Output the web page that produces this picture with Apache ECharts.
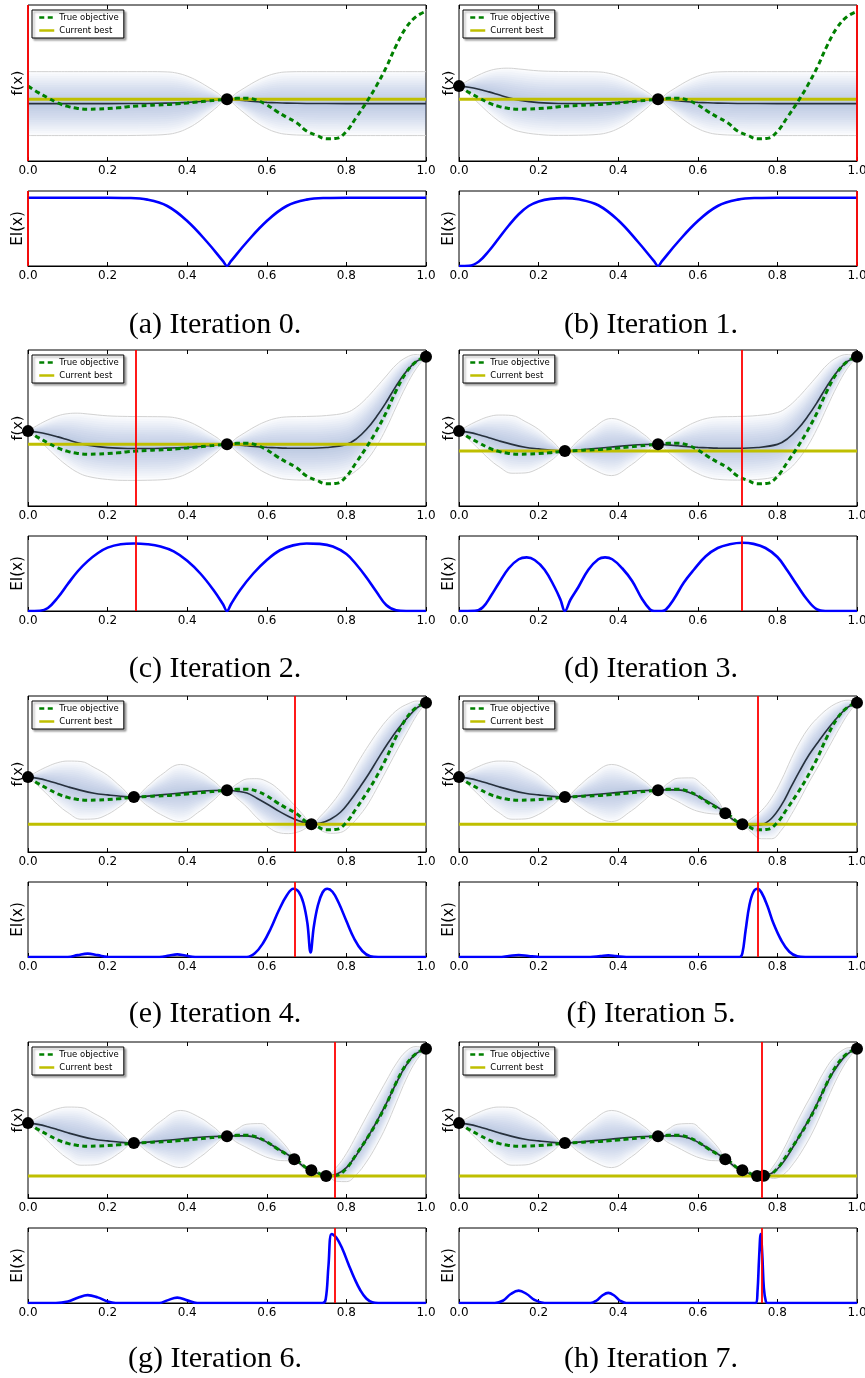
<!DOCTYPE html>
<html>
<head>
<meta charset="utf-8">
<script src="https://cdn.jsdelivr.net/npm/echarts@6/dist/echarts.min.js"></script>
<style>
html, body { margin: 0; padding: 0; background: #fff; }
#chart { width: 865px; height: 1378px; }
</style>
</head>
<body>
<div id="chart"></div>
<script>
// true objective (y is 0 = bottom of panel, 1 = top)
var TRUE_X = [0, 0.025, 0.05, 0.075, 0.1, 0.125, 0.15, 0.175, 0.2, 0.225, 0.25, 0.275, 0.3, 0.325,
  0.35, 0.375, 0.4, 0.425, 0.45, 0.475, 0.5, 0.525, 0.55, 0.575, 0.6, 0.625, 0.65, 0.675, 0.7,
  0.725, 0.75, 0.775, 0.8, 0.825, 0.85, 0.875, 0.9, 0.925, 0.95, 0.975, 1];
var TRUE_Y = [0.48, 0.44, 0.405, 0.372, 0.35, 0.337, 0.332, 0.333, 0.336, 0.341, 0.348, 0.353, 0.356, 0.359,
  0.362, 0.367, 0.372, 0.378, 0.384, 0.39, 0.396, 0.402, 0.403, 0.39, 0.36, 0.318, 0.28, 0.245, 0.192,
  0.165, 0.142, 0.145, 0.19, 0.28, 0.375, 0.48, 0.6, 0.74, 0.855, 0.925, 0.96];

// points queried in order; panel i shows the first i+1, red line at the next one
var QUERY_X = [0.5, 0, 1, 0.266, 0.712, 0.669, 0.749, 0.766, 0.758];
var QUERY_Y = [0.396, 0.48, 0.957, 0.353, 0.178, 0.249, 0.141, 0.143];
var BEST = [0.396, 0.396, 0.396, 0.353, 0.178, 0.178, 0.141, 0.141];
var CAPTIONS = ['(a) Iteration 0.', '(b) Iteration 1.', '(c) Iteration 2.', '(d) Iteration 3.',
  '(e) Iteration 4.', '(f) Iteration 5.', '(g) Iteration 6.', '(h) Iteration 7.'];

// GP posterior pieces: [x, mean, half width of grey band]
var GP_LEFT_A = [[0, 0.368, 0.205], [0.1, 0.368, 0.205], [0.2, 0.368, 0.205], [0.3, 0.369, 0.204],
  [0.35, 0.371, 0.2], [0.375, 0.373, 0.19], [0.4, 0.376, 0.168], [0.425, 0.38, 0.135],
  [0.45, 0.386, 0.092], [0.475, 0.392, 0.046]];
var GP_LEFT_B = [[0, 0.48, 0], [0.025, 0.473, 0.046], [0.05, 0.46, 0.092], [0.075, 0.443, 0.135],
  [0.1, 0.424, 0.168], [0.125, 0.405, 0.19], [0.15, 0.39, 0.2], [0.2, 0.374, 0.204],
  [0.25, 0.369, 0.205], [0.3, 0.369, 0.204], [0.35, 0.371, 0.2], [0.375, 0.373, 0.19],
  [0.4, 0.376, 0.168], [0.425, 0.38, 0.135], [0.45, 0.386, 0.092], [0.475, 0.392, 0.046]];
var GP_LEFT_D = [[0, 0.48, 0], [0.025, 0.472, 0.046], [0.05, 0.457, 0.092], [0.075, 0.438, 0.135],
  [0.1, 0.418, 0.165], [0.133, 0.395, 0.185], [0.166, 0.377, 0.165], [0.2, 0.366, 0.125],
  [0.233, 0.357, 0.062], [0.266, 0.353, 0], [0.3, 0.358, 0.062], [0.333, 0.366, 0.125],
  [0.383, 0.378, 0.183], [0.433, 0.389, 0.125], [0.466, 0.394, 0.062]];
var GP_RIGHT_A = [[0.5, 0.396, 0], [0.525, 0.392, 0.046], [0.55, 0.386, 0.092], [0.575, 0.38, 0.135],
  [0.6, 0.376, 0.168], [0.625, 0.373, 0.19], [0.65, 0.371, 0.2], [0.7, 0.369, 0.204],
  [0.8, 0.368, 0.205], [0.9, 0.368, 0.205], [1, 0.368, 0.205]];
var GP_RIGHT_C = [[0.5, 0.396, 0], [0.525, 0.392, 0.046], [0.55, 0.386, 0.092], [0.575, 0.38, 0.135],
  [0.6, 0.376, 0.168], [0.625, 0.373, 0.19], [0.65, 0.371, 0.2], [0.7, 0.37, 0.204],
  [0.75, 0.375, 0.205], [0.8, 0.395, 0.204], [0.825, 0.43, 0.203], [0.85, 0.49, 0.2],
  [0.875, 0.57, 0.19], [0.9, 0.665, 0.168], [0.925, 0.77, 0.135], [0.95, 0.86, 0.092],
  [0.975, 0.925, 0.046], [1, 0.957, 0]];
var GP_RIGHT_E = [[0.5, 0.396, 0], [0.525, 0.39, 0.046], [0.55, 0.378, 0.09], [0.575, 0.345, 0.125],
  [0.606, 0.3, 0.145], [0.63, 0.262, 0.138], [0.655, 0.228, 0.11], [0.68, 0.2, 0.07],
  [0.697, 0.186, 0.035], [0.712, 0.178, 0], [0.735, 0.185, 0.045], [0.76, 0.21, 0.09],
  [0.785, 0.255, 0.13], [0.81, 0.33, 0.16], [0.835, 0.42, 0.18], [0.856, 0.5, 0.185],
  [0.88, 0.6, 0.175], [0.905, 0.7, 0.155], [0.93, 0.79, 0.125], [0.955, 0.865, 0.085],
  [0.978, 0.925, 0.043], [1, 0.957, 0]];
var GP_RIGHT_F = [[0.5, 0.396, 0], [0.525, 0.398, 0.042], [0.55, 0.398, 0.075], [0.585, 0.375, 0.1],
  [0.61, 0.345, 0.09], [0.635, 0.31, 0.065], [0.655, 0.278, 0.035], [0.669, 0.249, 0],
  [0.69, 0.205, 0.014], [0.712, 0.178, 0], [0.735, 0.17, 0.045], [0.76, 0.175, 0.09],
  [0.785, 0.215, 0.13], [0.81, 0.3, 0.16], [0.835, 0.42, 0.18], [0.856, 0.52, 0.185],
  [0.88, 0.625, 0.175], [0.905, 0.715, 0.155], [0.93, 0.8, 0.125], [0.955, 0.875, 0.085],
  [0.978, 0.93, 0.043], [1, 0.957, 0]];
var GP_RIGHT_G = [[0.5, 0.396, 0], [0.525, 0.398, 0.042], [0.55, 0.398, 0.075], [0.585, 0.377, 0.1],
  [0.61, 0.343, 0.09], [0.635, 0.305, 0.065], [0.655, 0.274, 0.035], [0.669, 0.249, 0],
  [0.69, 0.207, 0.014], [0.712, 0.178, 0], [0.731, 0.155, 0.014], [0.749, 0.141, 0],
  [0.775, 0.152, 0.045], [0.8, 0.195, 0.09], [0.825, 0.275, 0.125], [0.85, 0.375, 0.145],
  [0.875, 0.485, 0.15], [0.9, 0.605, 0.145], [0.925, 0.735, 0.125], [0.95, 0.85, 0.09],
  [0.975, 0.925, 0.046], [1, 0.957, 0]];
var GP_RIGHT_H = [[0.5, 0.396, 0], [0.525, 0.398, 0.042], [0.55, 0.398, 0.075], [0.585, 0.377, 0.1],
  [0.61, 0.343, 0.09], [0.635, 0.305, 0.065], [0.655, 0.274, 0.035], [0.669, 0.249, 0],
  [0.69, 0.207, 0.014], [0.712, 0.178, 0], [0.731, 0.155, 0.014], [0.749, 0.141, 0],
  [0.757, 0.14, 0.003], [0.766, 0.143, 0], [0.79, 0.165, 0.04], [0.815, 0.23, 0.08],
  [0.84, 0.33, 0.11], [0.865, 0.44, 0.125], [0.89, 0.555, 0.125], [0.915, 0.685, 0.115],
  [0.94, 0.805, 0.09], [0.965, 0.895, 0.055], [0.985, 0.94, 0.025], [1, 0.957, 0]];

var GP = [
  GP_LEFT_A.concat(GP_RIGHT_A), GP_LEFT_B.concat(GP_RIGHT_A),
  GP_LEFT_B.concat(GP_RIGHT_C), GP_LEFT_D.concat(GP_RIGHT_C),
  GP_LEFT_D.concat(GP_RIGHT_E), GP_LEFT_D.concat(GP_RIGHT_F),
  GP_LEFT_D.concat(GP_RIGHT_G), GP_LEFT_D.concat(GP_RIGHT_H)
];

// expected improvement, [x, EI] (1 = top of panel)
var EI_A = [[0, 0.91], [0.2, 0.91], [0.25, 0.907], [0.3, 0.885], [0.35, 0.8], [0.4, 0.6], [0.45, 0.32],
  [0.49, 0.065], [0.5, 0], [0.51, 0.065], [0.55, 0.32], [0.6, 0.6], [0.65, 0.8], [0.7, 0.885],
  [0.75, 0.907], [0.8, 0.91], [1, 0.91]];
var EI_B = [[0, 0], [0.025, 0.003], [0.05, 0.06], [0.075, 0.2], [0.1, 0.37], [0.125, 0.54], [0.15, 0.69],
  [0.175, 0.8], [0.2, 0.86], [0.23, 0.895], [0.265, 0.905], [0.3, 0.89], [0.35, 0.81], [0.4, 0.61],
  [0.45, 0.32], [0.49, 0.065], [0.5, 0], [0.51, 0.065], [0.55, 0.32], [0.6, 0.6], [0.65, 0.8],
  [0.7, 0.885], [0.75, 0.907], [0.8, 0.91], [1, 0.91]];
var EI_C = [[0, 0], [0.03, 0.003], [0.05, 0.04], [0.075, 0.18], [0.1, 0.36], [0.125, 0.53], [0.15, 0.665],
  [0.175, 0.77], [0.2, 0.845], [0.233, 0.89], [0.266, 0.9], [0.3, 0.89], [0.333, 0.86], [0.366, 0.795],
  [0.4, 0.67], [0.433, 0.5], [0.466, 0.28], [0.49, 0.09], [0.5, 0], [0.51, 0.09], [0.533, 0.28],
  [0.566, 0.5], [0.6, 0.68], [0.633, 0.81], [0.666, 0.875], [0.7, 0.9], [0.733, 0.895], [0.766, 0.86],
  [0.8, 0.76], [0.825, 0.62], [0.85, 0.45], [0.875, 0.26], [0.9, 0.08], [0.925, 0.01], [0.95, 0], [1, 0]];
var EI_D = [[0, 0], [0.04, 0.003], [0.06, 0.05], [0.08, 0.2], [0.1, 0.37], [0.125, 0.57], [0.15, 0.69],
  [0.17, 0.715], [0.19, 0.68], [0.215, 0.55], [0.24, 0.32], [0.255, 0.15], [0.266, 0], [0.28, 0.15],
  [0.3, 0.32], [0.325, 0.55], [0.35, 0.69], [0.367, 0.715], [0.385, 0.69], [0.41, 0.57], [0.435, 0.4],
  [0.46, 0.16], [0.48, 0.02], [0.49, 0], [0.51, 0], [0.52, 0.02], [0.54, 0.16], [0.565, 0.38],
  [0.59, 0.55], [0.62, 0.73], [0.65, 0.84], [0.68, 0.89], [0.712, 0.91], [0.74, 0.895], [0.77, 0.84],
  [0.8, 0.72], [0.825, 0.54], [0.85, 0.34], [0.875, 0.15], [0.9, 0.02], [0.92, 0], [1, 0]];
var EI_E = [[0, 0], [0.1, 0], [0.125, 0.025], [0.15, 0.045], [0.175, 0.025], [0.2, 0.003], [0.33, 0],
  [0.355, 0.02], [0.375, 0.035], [0.395, 0.02], [0.42, 0], [0.55, 0], [0.57, 0.05], [0.59, 0.18],
  [0.61, 0.38], [0.63, 0.62], [0.65, 0.82], [0.667, 0.91], [0.68, 0.87], [0.692, 0.72], [0.702, 0.45],
  [0.71, 0.06], [0.718, 0.4], [0.728, 0.68], [0.74, 0.86], [0.752, 0.91], [0.765, 0.87], [0.78, 0.73],
  [0.8, 0.48], [0.82, 0.24], [0.84, 0.08], [0.86, 0.01], [0.88, 0], [1, 0]];
var EI_F = [[0, 0], [0.1, 0], [0.125, 0.013], [0.15, 0.027], [0.175, 0.013], [0.2, 0.002], [0.33, 0],
  [0.355, 0.012], [0.375, 0.022], [0.395, 0.012], [0.42, 0], [0.705, 0], [0.712, 0.05], [0.72, 0.35],
  [0.73, 0.7], [0.74, 0.87], [0.75, 0.91], [0.76, 0.86], [0.775, 0.68], [0.79, 0.45], [0.81, 0.22],
  [0.83, 0.07], [0.85, 0.01], [0.87, 0], [1, 0]];
var EI_G = [[0, 0], [0.07, 0], [0.1, 0.02], [0.125, 0.07], [0.15, 0.105], [0.175, 0.075], [0.2, 0.02],
  [0.22, 0], [0.33, 0], [0.35, 0.035], [0.375, 0.072], [0.4, 0.035], [0.425, 0], [0.74, 0],
  [0.748, 0.05], [0.755, 0.5], [0.763, 0.92], [0.775, 0.87], [0.79, 0.72], [0.805, 0.52], [0.82, 0.33],
  [0.835, 0.17], [0.85, 0.06], [0.865, 0.01], [0.88, 0], [1, 0]];
var EI_H = [[0, 0], [0.09, 0], [0.11, 0.03], [0.13, 0.12], [0.15, 0.165], [0.17, 0.12], [0.19, 0.04],
  [0.215, 0], [0.33, 0], [0.345, 0.03], [0.36, 0.1], [0.375, 0.135], [0.39, 0.1], [0.405, 0.03],
  [0.42, 0], [0.746, 0], [0.75, 0.15], [0.754, 0.6], [0.758, 0.92], [0.762, 0.65], [0.766, 0.2],
  [0.771, 0.02], [0.776, 0], [1, 0]];
var EI = [EI_A, EI_B, EI_C, EI_D, EI_E, EI_F, EI_G, EI_H];

// layout
var COL_LEFT = [28, 459];
var PLOT_W = 398;
var ROW_F = [5, 350, 696, 1042];
var F_H = 156;
var ROW_EI = [191, 536, 882, 1228];
var EI_H_PX = 75;
var CAP_X = [215, 651];
var CAP_Y = [325, 669, 1014, 1359];
// nested shading bands, as fractions of the grey band
var SHADE = [1, 0.93, 0.86, 0.79, 0.72, 0.65, 0.58, 0.51, 0.44, 0.37, 0.3, 0.23, 0.16, 0.09];

var chart = echarts.init(document.getElementById('chart'));
var grids = [], xAxes = [], yAxes = [], series = [], legends = [], graphics = [];

function fmt(v) { return v.toFixed(1); }

function addGrid(left, top, height, yName, nameSize) {
  var g = grids.length;
  grids.push({
    left: left, top: top, width: PLOT_W, height: height,
    show: true, borderColor: '#000', borderWidth: 1, backgroundColor: 'transparent',
    containLabel: false, outerBoundsMode: 'none'
  });
  xAxes.push({
    gridIndex: g, type: 'value', min: 0, max: 1, interval: 0.2, position: 'bottom',
    axisLine: { show: true, lineStyle: { color: '#000', width: 1 } },
    axisTick: { inside: true, length: 4, lineStyle: { color: '#000' } },
    axisLabel: { margin: 4, fontFamily: 'DejaVu Sans', fontSize: 12, color: '#000', formatter: fmt },
    splitLine: { show: false }
  });
  xAxes.push({
    gridIndex: g, type: 'value', min: 0, max: 1, interval: 0.2, position: 'top',
    axisLine: { show: false },
    axisTick: { inside: true, length: 4, lineStyle: { color: '#000' } },
    axisLabel: { show: false }, splitLine: { show: false }
  });
  yAxes.push({
    gridIndex: g, type: 'value', min: 0, max: 1,
    name: yName, nameLocation: 'middle', nameGap: 2, nameRotate: 90,
    nameTextStyle: { fontFamily: 'DejaVu Sans', fontSize: nameSize, color: '#000' },
    axisLine: { show: false }, axisTick: { show: false }, axisLabel: { show: false },
    splitLine: { show: false }
  });
  return g;
}

function redLine(g, x) {
  series.push({
    type: 'line', xAxisIndex: 2 * g, yAxisIndex: g, data: [], z: 10, silent: true,
    markLine: {
      silent: true, symbol: 'none', z: 10, animation: false,
      label: { show: false },
      lineStyle: { color: '#ff0000', width: 1.8, type: 'solid' },
      emphasis: { disabled: true },
      data: [{ xAxis: x }]
    }
  });
}

for (var i = 0; i < 8; i++) {
  var col = i % 2, row = Math.floor(i / 2);
  var left = COL_LEFT[col];
  var gp = GP[i];

  // f(x) panel
  var g = addGrid(left, ROW_F[row], F_H, 'f(x)', 14.5);
  var xi = 2 * g;

  // shaded posterior: nested bands, each a stack of (lower edge, width);
  // value put first so the stack runs on y, not x
  SHADE.forEach(function (k, j) {
    var st = 'band' + i + '_' + j;
    series.push({
      type: 'line', xAxisIndex: xi, yAxisIndex: g, stack: st, smooth: 0.4, symbol: 'none',
      silent: true, z: 1, lineStyle: { opacity: 0 }, encode: { x: 1, y: 0 },
      data: gp.map(function (p) { return [p[1] - k * p[2], p[0]]; })
    });
    series.push({
      type: 'line', xAxisIndex: xi, yAxisIndex: g, stack: st, smooth: 0.4, symbol: 'none',
      silent: true, z: 1, lineStyle: { opacity: 0 }, encode: { x: 1, y: 0 },
      areaStyle: { color: 'rgba(60,110,170,0.028)', opacity: 1 },
      data: gp.map(function (p) { return [2 * k * p[2], p[0]]; })
    });
  });

  [1, -1].forEach(function (s) {
    series.push({
      type: 'line', xAxisIndex: xi, yAxisIndex: g, smooth: 0.4, symbol: 'none', silent: true, z: 2,
      lineStyle: { color: '#d2d2d2', width: 1 },
      data: gp.map(function (p) { return [p[0], p[1] + s * p[2]]; })
    });
  });

  series.push({
    type: 'line', xAxisIndex: xi, yAxisIndex: g, smooth: 0.4, symbol: 'none', silent: true, z: 3,
    lineStyle: { color: '#26303c', width: 1.6 },
    data: gp.map(function (p) { return [p[0], p[1]]; })
  });

  series.push({
    name: 'Current best', type: 'line', xAxisIndex: xi, yAxisIndex: g, symbol: 'none', silent: true, z: 3,
    itemStyle: { color: '#bfbf00' },
    lineStyle: { color: '#bfbf00', width: 3 },
    data: [[0, BEST[i]], [1, BEST[i]]]
  });

  series.push({
    name: 'True objective', type: 'line', xAxisIndex: xi, yAxisIndex: g, smooth: 0.4, symbol: 'none',
    silent: true, z: 4,
    itemStyle: { color: '#008000' },
    lineStyle: { color: '#008000', width: 3, type: [5, 3.5] },
    data: TRUE_X.map(function (x, j) { return [x, TRUE_Y[j]]; })
  });

  var obs = [];
  for (var q = 0; q <= i; q++) obs.push([QUERY_X[q], QUERY_Y[q]]);
  series.push({
    type: 'scatter', xAxisIndex: xi, yAxisIndex: g, symbol: 'circle', symbolSize: 12, clip: false,
    silent: true, z: 5, itemStyle: { color: '#000', opacity: 1 }, data: obs
  });

  redLine(g, QUERY_X[i + 1]);

  legends.push({
    left: left + 4, top: ROW_F[row] + 5, orient: 'vertical',
    data: ['True objective', 'Current best'], selectedMode: false,
    backgroundColor: '#fff', borderColor: '#000', borderWidth: 1, borderRadius: 0,
    padding: [3, 5, 3, 6], itemGap: 4, itemWidth: 15, itemHeight: 10,
    textStyle: { fontFamily: 'DejaVu Sans', fontSize: 8.5, color: '#000' },
    itemStyle: { opacity: 0 },
    lineStyle: { width: 2.5 },
    shadowColor: 'rgba(0,0,0,0.35)', shadowBlur: 2, shadowOffsetX: 2, shadowOffsetY: 2
  });

  // EI panel
  var ge = addGrid(left, ROW_EI[row], EI_H_PX, 'EI(x)', 15);
  series.push({
    type: 'line', xAxisIndex: 2 * ge, yAxisIndex: ge, smooth: 0.4, symbol: 'none', silent: true, z: 3,
    lineStyle: { color: '#0000ff', width: 2.6 },
    data: EI[i]
  });
  redLine(ge, QUERY_X[i + 1]);

  graphics.push({
    type: 'text', x: CAP_X[col], y: CAP_Y[row],
    style: {
      text: CAPTIONS[i], font: '30px "Liberation Serif"', fill: '#000',
      textAlign: 'center', textVerticalAlign: 'middle', align: 'center', verticalAlign: 'middle'
    }
  });
}

chart.setOption({
  animation: false,
  backgroundColor: '#fff',
  grid: grids,
  xAxis: xAxes,
  yAxis: yAxes,
  legend: legends,
  graphic: graphics,
  series: series
});
</script>
</body>
</html>
